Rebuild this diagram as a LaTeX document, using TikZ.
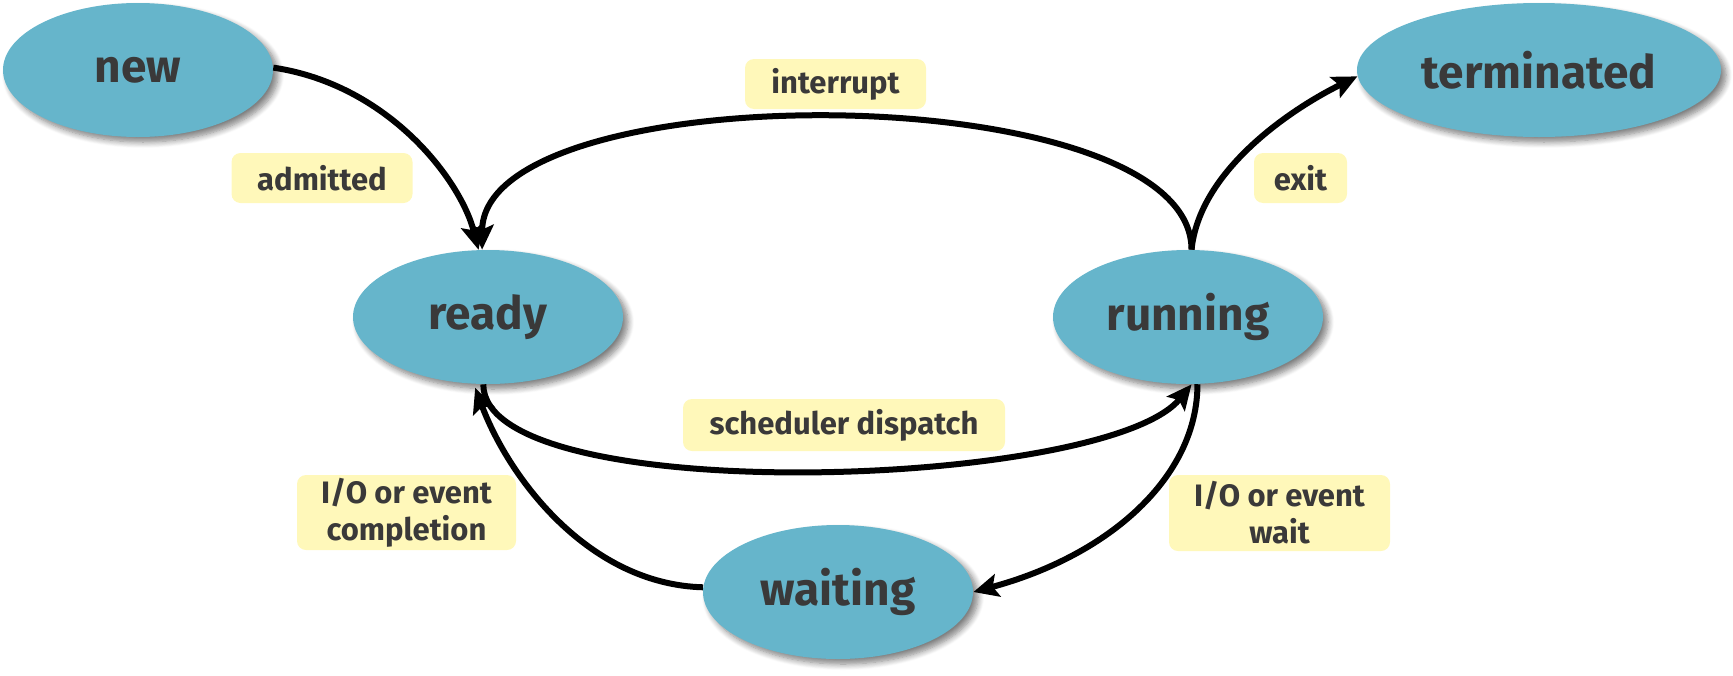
\documentclass[tikz,border=0pt]{standalone}
\usepackage{fontspec}
\setmainfont{Fira Sans}
\usetikzlibrary{shapes.geometric,arrows.meta,shadows.blur}
\definecolor{stateblue}{HTML}{66B5CB}
\definecolor{labelyellow}{HTML}{FFF8BA}
\definecolor{textgray}{HTML}{3A3939}
\begin{document}
\begin{tikzpicture}[x=0.5pt,y=-0.5pt,
  state/.style={ellipse, fill=stateblue, minimum width=135pt, minimum height=67pt,
    inner sep=0pt, text=textgray, font=\fontsize{23}{26}\selectfont\bfseries,
    blur shadow={shadow xshift=2.5pt, shadow yshift=-2.5pt, shadow blur radius=3pt,
      shadow blur steps=8, shadow opacity=50}},
  lbl/.style={rounded corners=4.5pt, fill=labelyellow, text=textgray,
    font=\fontsize{15.5}{18.5}\selectfont\bfseries, align=center, inner sep=0pt,
    minimum height=25pt},
  trans/.style={line width=3pt, -{Stealth[length=12.5pt,width=11.5pt,inset=2.5pt]}}
]
\useasboundingbox (0,0) rectangle (1733,675);

\node[state] (new) at (138,70) {new};
\node[state] (ready) at (488,317) {ready};
\node[state] (running) at (1188,317) {running};
\node[state] (waiting) at (838,592) {waiting};
\node[state, minimum width=182pt] (terminated) at (1539,70) {terminated};

\draw[trans] (new.1) .. controls +(115,17) and +(-18,-70) .. (ready.98);
\draw[trans] (running.87) .. controls +(0,-175) and +(0,-177) .. (ready.95);
\draw[trans] (ready.266) .. controls +(0,125) and +(-85,105) .. (running.273);
\draw[trans] (running.278) .. controls +(0,92) and +(137,-37) .. (waiting.east);
\draw[trans, shorten >=2pt] (waiting.178) .. controls +(-113,-3) and +(36,96) .. (ready.258);
\draw[trans] (running.87) .. controls +(8,-79) and +(-67,33) .. (terminated.182);

\node[lbl, minimum width=90.5pt] (ladmitted) at (322,178) {admitted};
\node[lbl, minimum width=90.5pt] (linterrupt) at (835.5,84) {interrupt};
\node[lbl, minimum width=46.5pt] (lexit) at (1300.5,178) {exit};
\node[lbl, minimum width=161pt, minimum height=26pt] (ldispatch) at (844,425) {scheduler dispatch};
\node[lbl, minimum width=109.5pt, minimum height=37.5pt] (lcompletion) at (406.5,512.5) {I/O or event\\completion};
\node[lbl, minimum width=110.5pt, minimum height=38pt] (lwait) at (1279.5,513) {I/O or event\\wait};
\end{tikzpicture}
\end{document}
